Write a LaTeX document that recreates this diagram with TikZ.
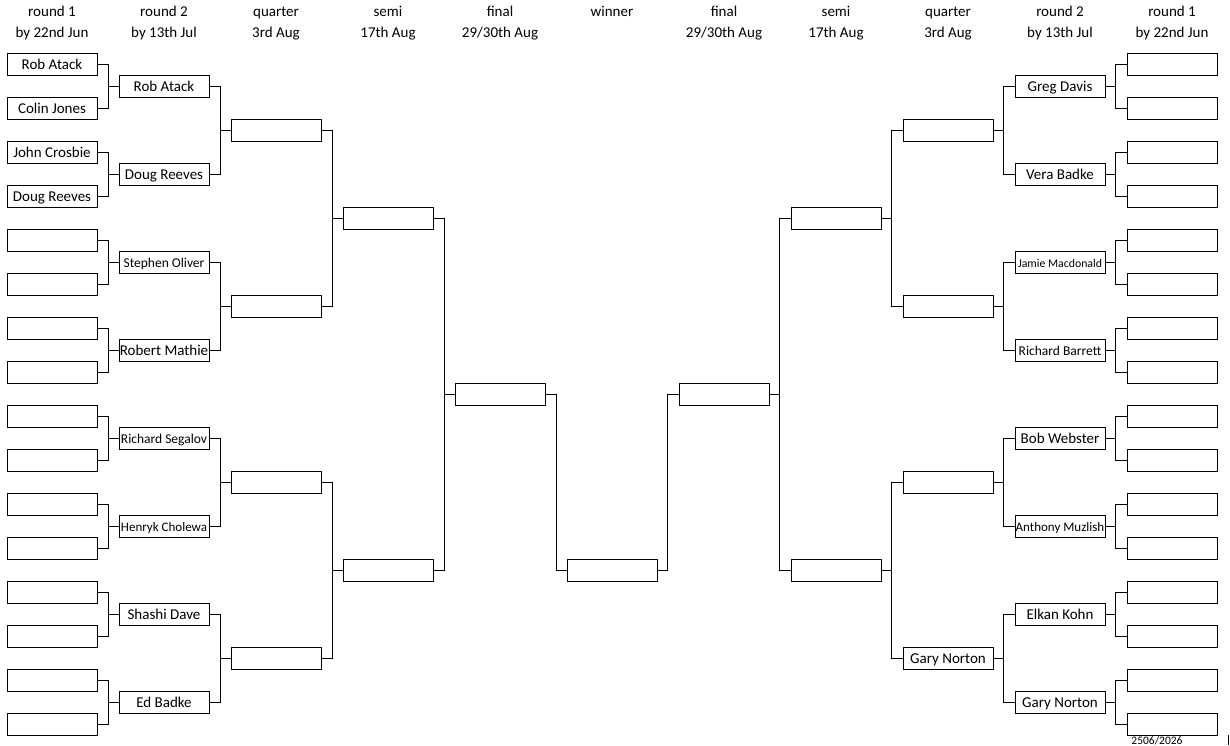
\documentclass[tikz,border=0pt]{standalone}
\usepackage{fontspec}
\setmainfont{Carlito}
\tikzset{
  slot/.style={draw, line width=1pt, minimum width=90pt, minimum height=22pt, inner sep=0pt, text height=11.5pt, text depth=2pt, font=\fontsize{15}{18}\selectfont},
  link/.style={line width=1pt},
  head/.style={font=\fontsize{15}{18}\selectfont, inner sep=0pt, text height=12pt, text depth=1.5pt}
}
\begin{document}
\begin{tikzpicture}[x=1pt, y=-1pt]
            \useasboundingbox[fill=white] (0,0) rectangle (1230,745);

            % Column headings
            \foreach \j/\x/\top/\bot in {1/52/round 1/by 22nd Jun, 2/164/round 2/by 13th Jul, 3/276/quarter/3rd Aug, 4/388/semi/17th Aug, 5/500/final/{29/30th Aug}, 7/724/final/{29/30th Aug}, 8/836/semi/17th Aug, 9/948/quarter/3rd Aug, 10/1060/round 2/by 13th Jul, 11/1172/round 1/by 22nd Jun} {
                \node[head] (hd\j a) at (\x,11) {\top};
                \node[head] (hd\j b) at (\x,32) {\bot};
            }
            \node[head] (hd6a) at (612,11) {winner};

            % Left half: round 1
            \foreach \i/\who in {1/Rob Atack, 2/Colin Jones, 3/John Crosbie, 4/Doug Reeves, 5/, 6/, 7/, 8/, 9/, 10/, 11/, 12/, 13/, 14/, 15/, 16/} {
                \node[slot] (LA\i) at (52,{64.5+44*(\i-1)}) {\who};
            }
            % Left half: round 2
            \foreach \i/\who/\sz in {1/Rob Atack/15, 2/Doug Reeves/15, 3/Stephen Oliver/13.5, 4/Robert Mathie/15, 5/Richard Segalov/13.5, 6/Henryk Cholewa/13, 7/Shashi Dave/15, 8/Ed Badke/15} {
                \node[slot, font=\fontsize{\sz}{18}\selectfont] (LB\i) at (164,{86.5+88*(\i-1)}) {\who};
            }
            % Left half: quarter, semi, final
            \foreach \i in {1,...,4} {
                \node[slot] (LQ\i) at (276,{130.5+176*(\i-1)}) {};
            }
            \foreach \i in {1,2} {
                \node[slot] (LS\i) at (388,{218.5+352*(\i-1)}) {};
            }
            \node[slot] (LF) at (500,394.5) {};

            % Winner
            \node[slot] (W) at (612,570.5) {};

            % Right half: round 1
            \foreach \i in {1,...,16} {
                \node[slot] (RA\i) at (1172,{64.5+44*(\i-1)}) {};
            }
            % Right half: round 2
            \foreach \i/\who/\sz in {1/Greg Davis/15, 2/Vera Badke/15, 3/Jamie Macdonald/11.8, 4/Richard Barrett/13.5, 5/Bob Webster/15, 6/Anthony Muzlish/13, 7/Elkan Kohn/15, 8/Gary Norton/15} {
                \node[slot, font=\fontsize{\sz}{18}\selectfont] (RB\i) at (1060,{86.5+88*(\i-1)}) {\who};
            }
            % Right half: quarter, semi, final
            \foreach \i/\who in {1/, 2/, 3/, 4/Gary Norton} {
                \node[slot] (RQ\i) at (948,{130.5+176*(\i-1)}) {\who};
            }
            \foreach \i in {1,2} {
                \node[slot] (RS\i) at (836,{218.5+352*(\i-1)}) {};
            }
            \node[slot] (RF) at (724,394.5) {};

            % Brackets: round 1 to round 2
            \foreach \i in {1,...,8} {
                \pgfmathtruncatemacro{\a}{2*\i-1}
                \pgfmathtruncatemacro{\b}{2*\i}
                \draw[link] (LA\a.east) -- ++(11,0) |- (LB\i.west);
                \draw[link] (LA\b.east) -- ++(11,0) |- (LB\i.west);
                \draw[link] (RA\a.west) -- ++(-11,0) |- (RB\i.east);
                \draw[link] (RA\b.west) -- ++(-11,0) |- (RB\i.east);
            }
            % Brackets: round 2 to quarter
            \foreach \i in {1,...,4} {
                \pgfmathtruncatemacro{\a}{2*\i-1}
                \pgfmathtruncatemacro{\b}{2*\i}
                \draw[link] (LB\a.east) -- ++(11,0) |- (LQ\i.west);
                \draw[link] (LB\b.east) -- ++(11,0) |- (LQ\i.west);
                \draw[link] (RB\a.west) -- ++(-11,0) |- (RQ\i.east);
                \draw[link] (RB\b.west) -- ++(-11,0) |- (RQ\i.east);
            }
            % Brackets: quarter to semi
            \foreach \i in {1,2} {
                \pgfmathtruncatemacro{\a}{2*\i-1}
                \pgfmathtruncatemacro{\b}{2*\i}
                \draw[link] (LQ\a.east) -- ++(11,0) |- (LS\i.west);
                \draw[link] (LQ\b.east) -- ++(11,0) |- (LS\i.west);
                \draw[link] (RQ\a.west) -- ++(-11,0) |- (RS\i.east);
                \draw[link] (RQ\b.west) -- ++(-11,0) |- (RS\i.east);
            }
            % Brackets: semi to final to winner
            \foreach \s in {LS1,LS2} {
                \draw[link] (\s.east) -- ++(11,0) |- (LF.west);
            }
            \foreach \s in {RS1,RS2} {
                \draw[link] (\s.west) -- ++(-11,0) |- (RF.east);
            }
            \draw[link] (LF.east) -- ++(11,0) |- (W.west);
            \draw[link] (RF.west) -- ++(-11,0) |- (W.east);

            % Footer
            \node[font=\fontsize{11.5}{13}\selectfont, inner sep=0pt, anchor=north] (stamp) at (1157,736) {2506/2026};
            \draw[link] (1228,735) -- (1228,745);
\end{tikzpicture}
\end{document}
